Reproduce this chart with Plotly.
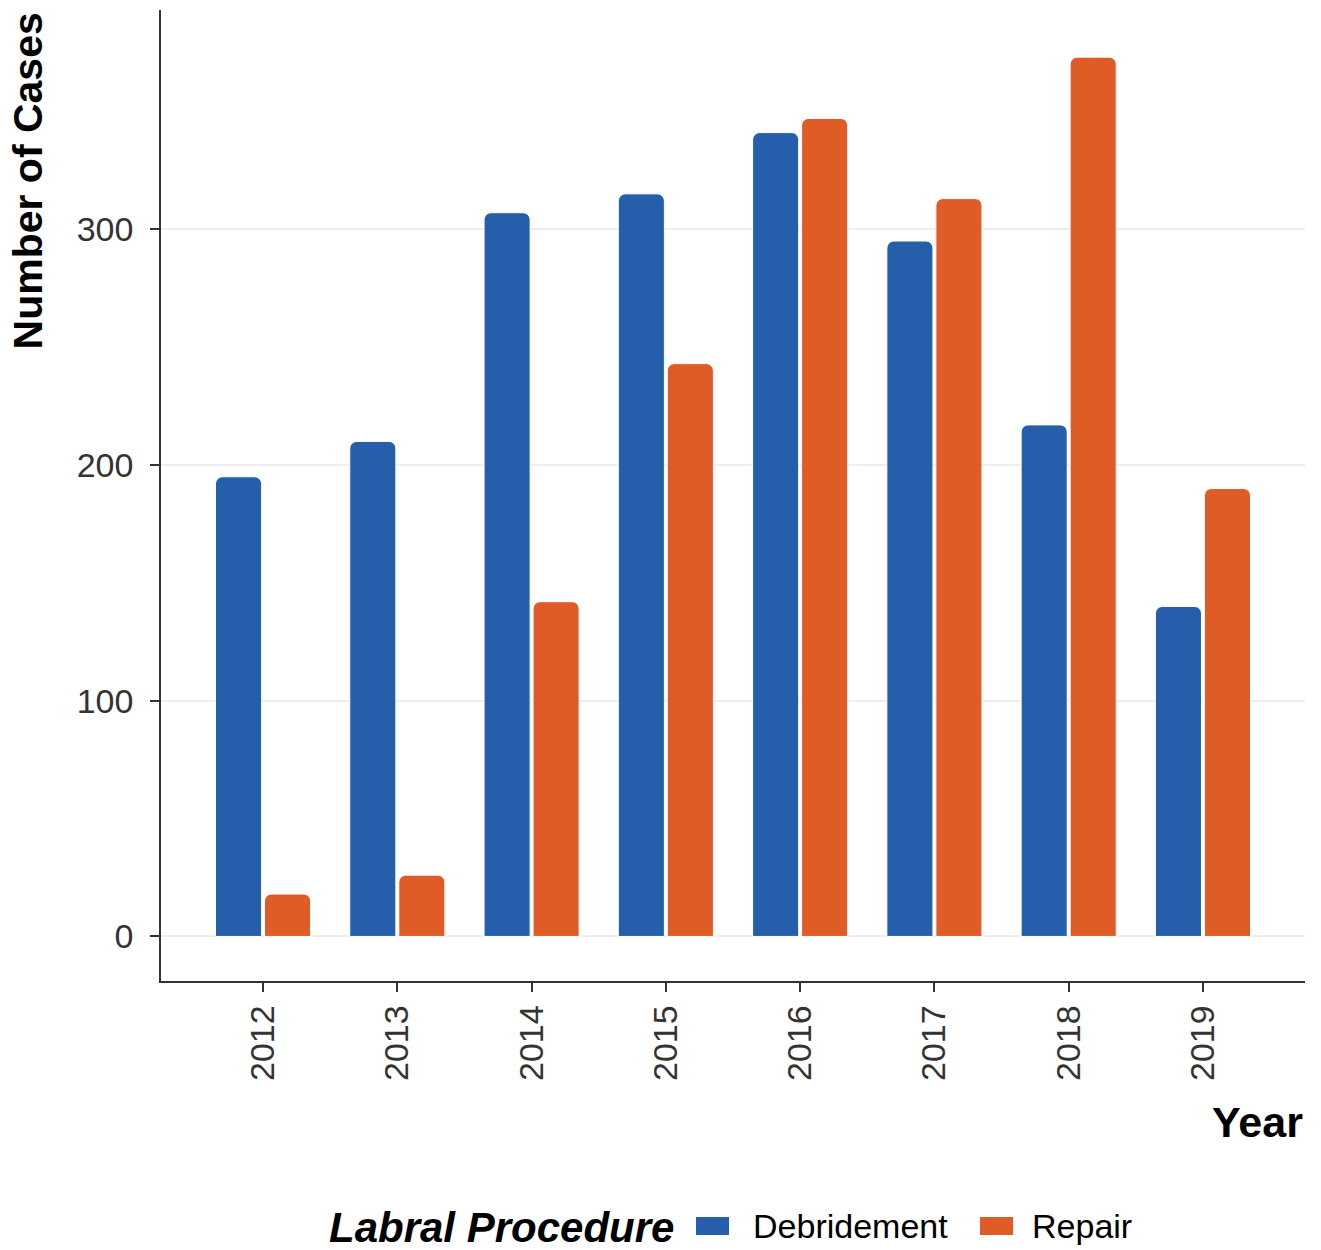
import plotly.graph_objects as go

years = ["2012", "2013", "2014", "2015", "2016", "2017", "2018", "2019"]
debridement = [195, 210, 307, 315, 341, 295, 217, 140]
repair = [18, 26, 142, 243, 347, 313, 373, 190]

FONT = "Liberation Sans, Arial, sans-serif"
BLUE = "#255FAB"
ORANGE = "#E05C26"
series = [("Debridement", debridement, BLUE), ("Repair", repair, ORANGE)]

fig = go.Figure()
for nm, vals, col in series:
    fig.add_trace(go.Bar(x=years, y=vals, name=nm, showlegend=False,
                         marker=dict(color=col, line=dict(color="white", width=1))))
# legend entries (their keys are drawn as larger coloured boxes below)
for nm, vals, col in series:
    fig.add_trace(go.Scatter(x=[None], y=[None], mode="markers", name=nm,
                             marker=dict(symbol="square", size=12, color="rgba(0,0,0,0)")))

KEY_Y = -0.2523
key_x = [0.4825, 0.7299]
key_annotations = [
    dict(text=" ", xref="paper", yref="paper", x=kx, y=KEY_Y,
         xanchor="center", yanchor="middle", showarrow=False,
         width=33, height=18, bgcolor=col, borderpad=0, borderwidth=0,
         font=dict(size=2, color=col))
    for kx, (nm, vals, col) in zip(key_x, series)
]

fig.update_layout(
    width=1321, height=1250,
    paper_bgcolor="white", plot_bgcolor="white",
    margin=dict(l=161, r=16, t=10, b=269),
    barmode="group", bargap=0.27, bargroupgap=0.06,
    barcornerradius=7,
    font=dict(family=FONT, color="#333333"),
    showlegend=True,
    legend=dict(orientation="h", xref="paper", x=0.4563, xanchor="left",
                yref="container", y=0.0200, yanchor="middle",
                font=dict(size=34, color="black", family=FONT),
                itemwidth=60, entrywidth=204),
    xaxis=dict(type="category", range=[-0.76, 7.76], tickangle=-90,
               showline=True, linecolor="#333333", linewidth=1.5,
               ticks="outside", ticklen=9, tickcolor="#333333", tickwidth=1.5,
               tickfont=dict(size=34, color="#333333", family=FONT),
               ticklabelstandoff=0, automargin=False,
               showgrid=False, zeroline=False),
    yaxis=dict(range=[-18.9, 393], tickvals=[0, 100, 200, 300],
               showline=True, linecolor="#333333", linewidth=1.5,
               ticks="outside", ticklen=9, tickcolor="#333333", tickwidth=1.5,
               tickfont=dict(size=34, color="#333333", family=FONT),
               ticklabelstandoff=10, automargin=False,
               showgrid=True, gridcolor="#EEEEEE", gridwidth=1.5, zeroline=False),
    annotations=key_annotations + [
        dict(text="<b><i>Labral Procedure</i></b>", xref="paper", yref="paper",
             x=0.4502, y=-0.2540, xanchor="right", yanchor="middle", showarrow=False,
             font=dict(size=42, color="black", family=FONT)),
        dict(text="<b>Year</b>", xref="paper", yref="paper", x=1, y=-0.145,
             xanchor="right", yanchor="middle", showarrow=False,
             font=dict(size=43, color="black", family=FONT)),
        dict(text="<b>Number of Cases</b>", xref="paper", yref="paper", x=-0.1163, y=1.0,
             xanchor="center", yanchor="top", textangle=-90, showarrow=False,
             font=dict(size=41, color="black", family=FONT)),
    ],
)

fig.write_html("out.html", config={"displayModeBar": False},
               post_script="document.body.style.margin='0';")
